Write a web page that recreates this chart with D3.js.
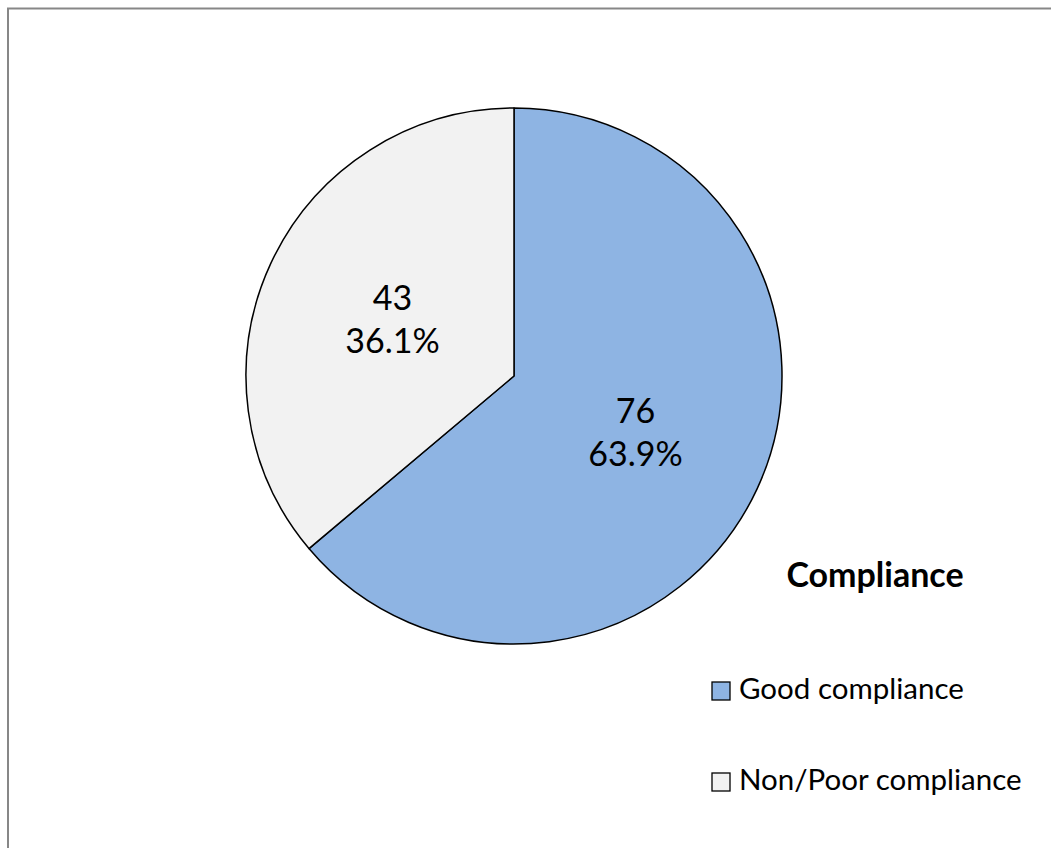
<!DOCTYPE html>
<html>
<head>
<meta charset="utf-8">
<script src="https://cdn.jsdelivr.net/npm/d3@7"></script>
<style>
  body { margin: 0; background: #fff; }
  svg { display: block; }
</style>
</head>
<body>
<div id="chart"></div>
<script>
// pie data
var categories = ["Good compliance", "Non/Poor compliance"];
var counts = [76, 43];
var percents = ["63.9%", "36.1%"];
var colors = ["#8EB4E3", "#F2F2F2"];
var legendTitle = "Compliance";

var w = 1051, h = 848;
var cx = 514, cy = 376, r = 268;
var font = "Lato, 'Open Sans', sans-serif";

var svg = d3.select("#chart")
    .append("svg")
    .attr("width", w)
    .attr("height", h);

// chart area border (only top and left visible)
svg.append("rect")
    .attr("x", 8)
    .attr("y", 8.5)
    .attr("width", w + 20)
    .attr("height", h + 20)
    .attr("fill", "white")
    .attr("stroke", "#878787")
    .attr("stroke-width", 2);

var pie = d3.pie().sort(null).value(function(d) { return d; });
var arcs = pie(counts);
var arc = d3.arc().innerRadius(0).outerRadius(r);
var labelArc = d3.arc().innerRadius(r * 0.5).outerRadius(r * 0.5);

var g = svg.append("g").attr("transform", "translate(" + cx + "," + cy + ")");

g.selectAll("path.slice")
    .data(arcs)
    .enter()
    .append("path")
    .attr("class", "slice")
    .attr("d", arc)
    .attr("fill", function(d, i) { return colors[i]; })
    .attr("stroke", "#000")
    .attr("stroke-width", 1.5)
    .attr("stroke-linejoin", "round");

// data labels: count on top, percent below
var labels = g.selectAll("text.lab")
    .data(arcs)
    .enter()
    .append("text")
    .attr("class", "lab")
    .attr("text-anchor", "middle")
    .style("font-family", font)
    .style("font-size", "34px")
    .style("fill", "#000")
    .attr("transform", function(d) {
        var c = labelArc.centroid(d);
        return "translate(" + c[0] + "," + c[1] + ")";
    });

labels.append("tspan")
    .attr("x", 0)
    .attr("dy", "-0.28em")
    .text(function(d, i) { return counts[i]; });
labels.append("tspan")
    .attr("x", 0)
    .attr("dy", "1.27em")
    .text(function(d, i) { return percents[i]; });

// legend
svg.append("text")
    .attr("x", 875)
    .attr("y", 587)
    .attr("text-anchor", "middle")
    .style("font-family", font)
    .style("font-size", "34px")
    .style("font-weight", "bold")
    .style("fill", "#000")
    .text(legendTitle);

var legend = svg.selectAll("g.leg")
    .data(categories)
    .enter()
    .append("g")
    .attr("class", "leg")
    .attr("transform", function(d, i) { return "translate(712," + (682 + i * 91) + ")"; });

legend.append("rect")
    .attr("width", 18)
    .attr("height", 18)
    .attr("fill", function(d, i) { return colors[i]; })
    .attr("stroke", "#000")
    .attr("stroke-width", 1.3);

legend.append("text")
    .attr("x", 27)
    .attr("y", 17)
    .style("font-family", font)
    .style("font-size", "29.5px")
    .style("fill", "#000")
    .text(function(d) { return d; });
</script>
</body>
</html>
